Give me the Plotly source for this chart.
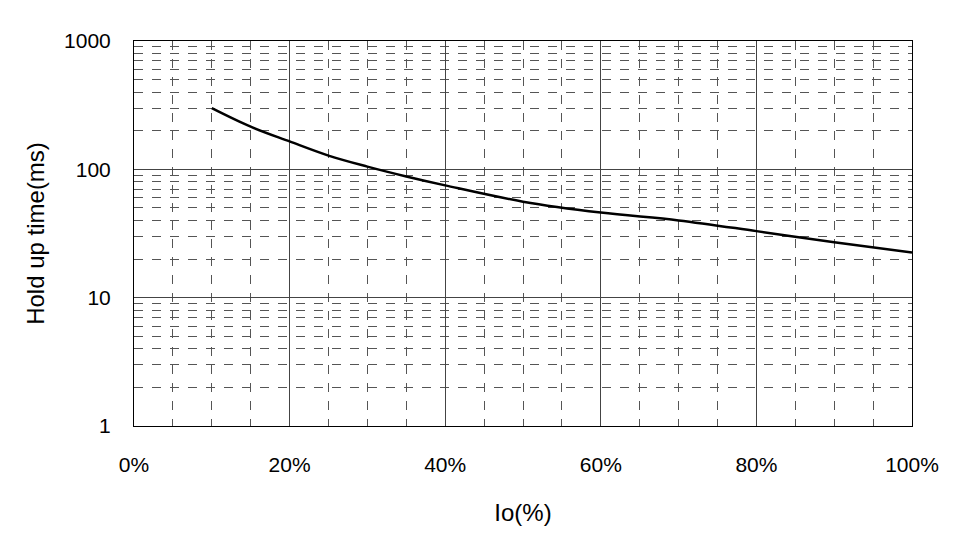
import plotly.graph_objects as go

load_pct = [10, 15, 20, 25, 30, 35, 40, 50, 60, 70, 80, 90, 100]
hold_ms = [300, 215, 165, 128, 105, 88, 75, 56, 46, 40, 33, 27, 22.5]

fig = go.Figure()
fig.add_trace(go.Scatter(x=[p / 100 for p in load_pct], y=hold_ms, mode='lines',
                         line=dict(color='black', width=2.5, shape='spline'),
                         showlegend=False))

fig.update_layout(
    width=960, height=557,
    margin=dict(l=126, r=56, t=33, b=139),
    plot_bgcolor='white', paper_bgcolor='white',
    font=dict(family='Liberation Sans, Arial', size=20, color='black'),
)
fig.update_xaxes(
    range=[0, 1], dtick=0.2, tickformat='.0%', tickfont=dict(size=21),
    showgrid=True, gridcolor='#444', gridwidth=1,
    minor=dict(dtick=0.05, showgrid=True, gridcolor='#555', griddash='dash', gridwidth=1),
    showline=True, linecolor='black', mirror=True,
    title=dict(text='Io(%)', standoff=28), ticklabelstandoff=20,
)
fig.update_yaxes(
    type='log', range=[0, 3], dtick=1, tickfont=dict(size=21),
    showgrid=True, gridcolor='#444', gridwidth=1,
    minor=dict(dtick='D1', showgrid=True, gridcolor='#555', griddash='dash', gridwidth=1),
    showline=True, linecolor='black', mirror=True,
    title=dict(text='Hold up time(ms)', standoff=12), ticklabelstandoff=18,
)

fig.write_html("out.html")
